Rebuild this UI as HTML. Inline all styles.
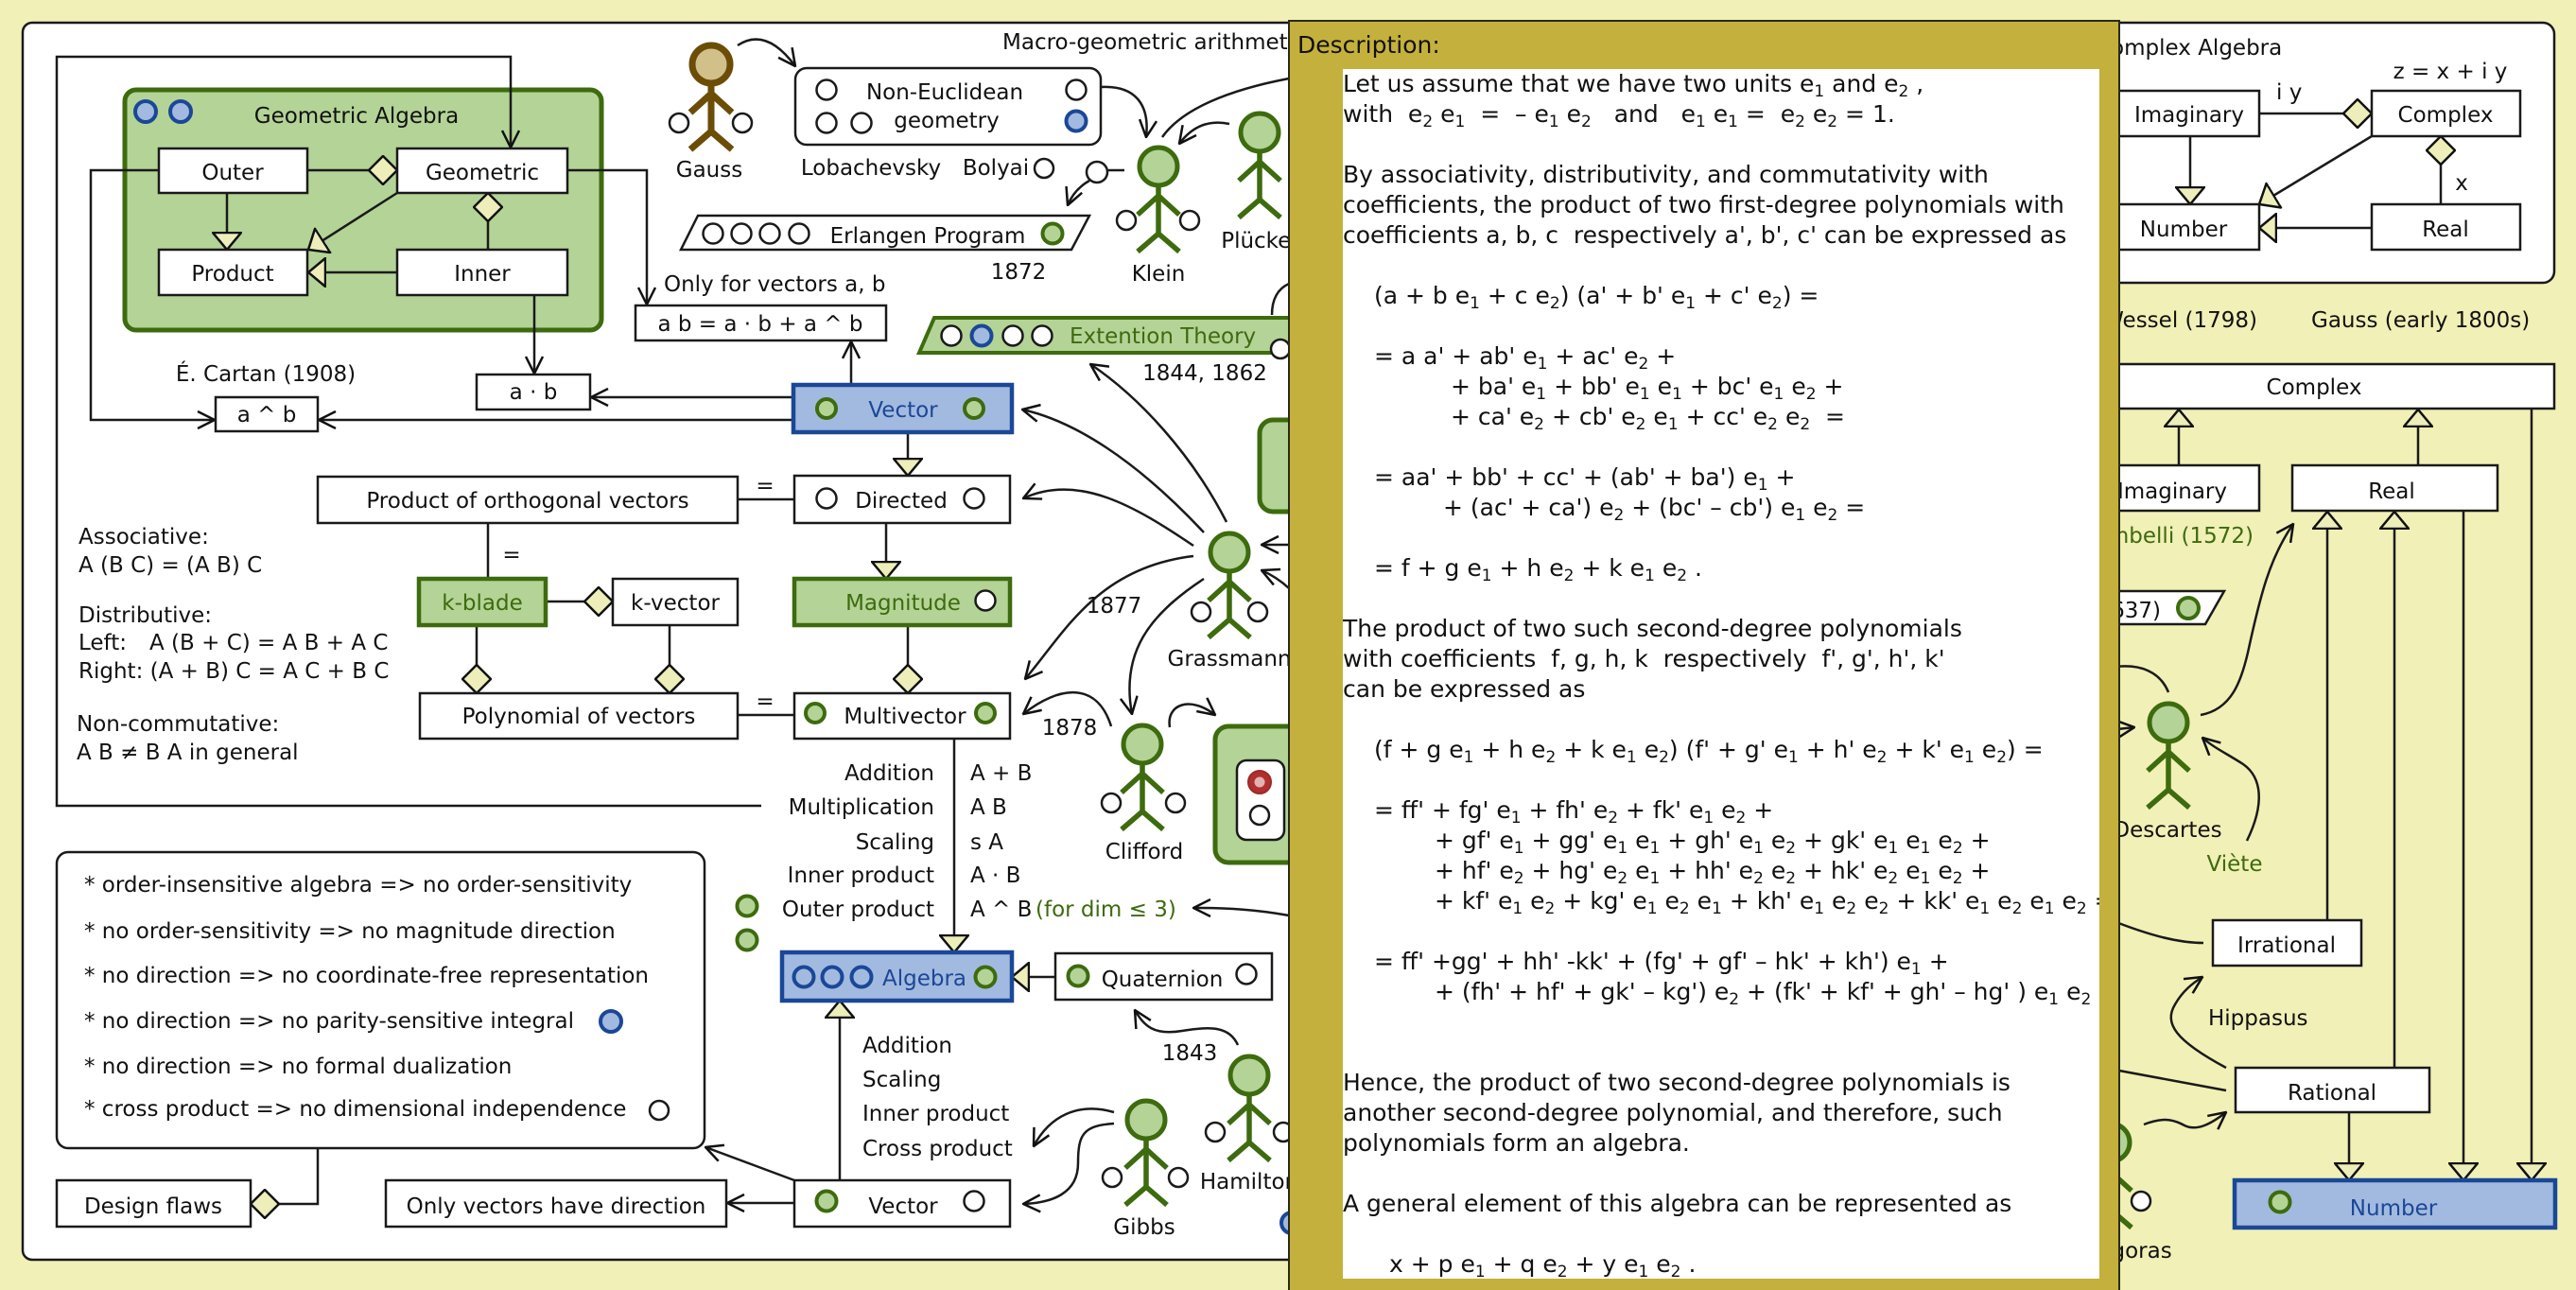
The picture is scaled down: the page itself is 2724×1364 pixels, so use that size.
<!DOCTYPE html>
<html><head><meta charset="utf-8">
<style>
html,body{margin:0;padding:0;background:#f1f0b6;}
body{width:2724px;height:1364px;position:relative;overflow:hidden;}
svg{position:absolute;left:0;top:0;}
text{font-family:"DejaVu Sans","Liberation Sans",sans-serif;font-size:23px;fill:#111;}
.m{text-anchor:middle}
.e{text-anchor:end}
.g{fill:#3d6b0e}
.b{fill:#1b4796}
.ln{fill:none;stroke:#1a1a1a;stroke-width:2.5}
.bx{fill:#fff;stroke:#1a1a1a;stroke-width:2.5}
.gb{fill:#b4d396;stroke:#3d6b0e;stroke-width:4.5}
.bb{fill:#a2bae0;stroke:#1b4796;stroke-width:4.5}
.oc{fill:#fff;stroke:#1a1a1a;stroke-width:2.5}
.gc{fill:#b4d396;stroke:#3d6b0e;stroke-width:4}
.bc{fill:#a2bae0;stroke:#1b4796;stroke-width:4}
.br{fill:none;stroke:#1b4796;stroke-width:4}
#desc{position:absolute;left:1420px;top:73px;width:800px;height:1279px;overflow:hidden;background:#fff;font-family:"DejaVu Sans","Liberation Sans",sans-serif;font-size:25px;color:#111;}
#desc div{height:32px;line-height:32px;white-space:pre;}
#desc sub{font-size:17px;vertical-align:-5px;line-height:0;}
</style></head>
<body>
<svg width="2724" height="1364" viewBox="0 0 2724 1364" xmlns="http://www.w3.org/2000/svg">
<defs>
<marker id="ar" viewBox="0 0 20 20" refX="19" refY="10" markerWidth="20" markerHeight="20" markerUnits="userSpaceOnUse" orient="auto"><path d="M1,1 L19,10 L1,19" fill="none" stroke="#111" stroke-width="2.5"/></marker>
<marker id="tri" viewBox="0 0 20 32" refX="19" refY="16" markerWidth="20" markerHeight="32" markerUnits="userSpaceOnUse" orient="auto"><path d="M1,1 L19,16 L1,31 Z" fill="#eeeeba" stroke="#111" stroke-width="2.5"/></marker>
<marker id="dia" viewBox="0 0 32 32" refX="31" refY="16" markerWidth="32" markerHeight="32" markerUnits="userSpaceOnUse" orient="auto"><path d="M1,16 L16,1 L31,16 L16,31 Z" fill="#eeeeba" stroke="#111" stroke-width="2.5"/></marker>
<g id="aG"><circle r="20" fill="#b4d396" stroke="#3d6b0e" stroke-width="5"/><path d="M0,22 V71 M-22,51 L0,31 L22,51 M-22,90 L0,71 L22,90" fill="none" stroke="#3d6b0e" stroke-width="5.5"/></g>
<g id="aB"><circle r="20" fill="#d2c08a" stroke="#6b4d06" stroke-width="7"/><path d="M0,22 V71 M-22,51 L0,31 L22,51 M-22,90 L0,71 L22,90" fill="none" stroke="#6b4d06" stroke-width="7"/></g>
</defs>

<!-- main left container -->
<rect x="24" y="24" width="2160" height="1308" rx="10" class="bx"/>

<!-- Geometric Algebra package -->
<rect x="132" y="95" width="504" height="254" rx="12" fill="#b4d396" stroke="#3d6b0e" stroke-width="5"/>
<circle cx="154" cy="118" r="11" class="bc"/><circle cx="191" cy="118" r="11" class="bc"/>
<text x="377" y="130" class="m">Geometric Algebra</text>

<!-- connectors left -->
<path d="M805,852 H60 V60 H540 V156" class="ln" marker-end="url(#ar)"/>
<path d="M168,180 H96 V444 H227" class="ln" marker-end="url(#ar)"/>
<path d="M600,180 H684 V322" class="ln" marker-end="url(#ar)"/>
<path d="M565,312 V395" class="ln" marker-end="url(#ar)"/>
<path d="M839,420 H625" class="ln" marker-end="url(#ar)"/>
<path d="M839,444 H337" class="ln" marker-end="url(#ar)"/>
<path d="M900,407 V361" class="ln" marker-end="url(#ar)"/>
<path d="M240,204 V264" class="ln" marker-end="url(#tri)"/>
<path d="M420,204 L326,264" class="ln" marker-end="url(#tri)"/>
<path d="M420,288 H326" class="ln" marker-end="url(#tri)"/>
<path d="M325,180 H420" class="ln" marker-end="url(#dia)"/>
<path d="M516,264 V204" class="ln" marker-end="url(#dia)"/>
<path d="M960,457 V503" class="ln" marker-end="url(#tri)"/>
<path d="M937,553 V612" class="ln" marker-end="url(#tri)"/>
<path d="M960,661 V733" class="ln" marker-end="url(#dia)"/>
<path d="M504,661 V733" class="ln" marker-end="url(#dia)"/>
<path d="M708,661 V733" class="ln" marker-end="url(#dia)"/>
<path d="M577,636 H648" class="ln" marker-end="url(#dia)"/>
<path d="M516,553 V612" class="ln"/>
<path d="M780,528 H840" class="ln"/>
<path d="M780,756 H840" class="ln"/>
<path d="M1009,781 V1007" class="ln" marker-end="url(#tri)"/>
<path d="M1116,1033 H1070" class="ln" marker-end="url(#tri)"/>
<path d="M888,1248 V1058" class="ln" marker-end="url(#tri)"/>
<path d="M840,1272 H769" class="ln" marker-end="url(#ar)"/>
<path d="M840,1248 L746,1213" class="ln" marker-end="url(#ar)"/>
<path d="M336,1214 V1273 H265" class="ln" marker-end="url(#dia)"/>

<!-- curves -->
<path d="M780,48 Q810,28 841,70" class="ln" marker-end="url(#ar)"/>
<path d="M1164,92 C1200,90 1216,110 1212,145" class="ln" marker-end="url(#ar)"/>
<path d="M1189,180 H1172" class="ln"/>
<circle cx="1160" cy="182" r="11" class="oc"/>
<path d="M1152,191 Q1136,200 1129,217" class="ln" marker-end="url(#ar)"/>
<path d="M1300,131 Q1268,124 1247,152" class="ln" marker-end="url(#ar)"/>
<path d="M1363,83 C1300,95 1250,115 1229,145" class="ln"/>
<path d="M1345,333 C1345,315 1352,305 1363,300" class="ln"/>
<path d="M1297,552 C1260,480 1205,420 1153,385" class="ln" marker-end="url(#ar)"/>
<path d="M1273,563 C1200,485 1135,445 1081,433" class="ln" marker-end="url(#ar)"/>
<path d="M1262,577 C1200,535 1140,500 1082,527" class="ln" marker-end="url(#ar)"/>
<path d="M1262,588 C1160,600 1125,670 1084,718" class="ln" marker-end="url(#ar)"/>
<path d="M1273,612 C1215,650 1185,690 1197,755" class="ln" marker-end="url(#ar)"/>
<path d="M1175,768 C1160,720 1120,725 1082,755" class="ln" marker-end="url(#ar)"/>
<path d="M1237,769 C1233,745 1258,735 1285,756" class="ln" marker-end="url(#ar)"/>
<path d="M1363,968 C1330,962 1300,960 1262,960" class="ln" marker-end="url(#ar)"/>
<path d="M1363,576 L1334,576" class="ln" marker-end="url(#ar)"/>
<path d="M1363,622 Q1350,610 1334,603" class="ln" marker-end="url(#ar)"/>
<path d="M1309,1105 C1300,1085 1280,1085 1250,1090 C1220,1095 1210,1085 1200,1068" class="ln" marker-end="url(#ar)"/>
<path d="M1178,1176 C1140,1165 1110,1180 1093,1212" class="ln" marker-end="url(#ar)"/>
<path d="M1178,1188 C1145,1190 1140,1200 1140,1230 C1140,1262 1112,1272 1082,1273" class="ln" marker-end="url(#ar)"/>

<!-- GA inner boxes -->
<rect x="168" y="157" width="157" height="47" class="bx"/><text x="246" y="190" class="m">Outer</text>
<rect x="420" y="157" width="180" height="47" class="bx"/><text x="510" y="190" class="m">Geometric</text>
<rect x="168" y="264" width="157" height="48" class="bx"/><text x="246" y="297" class="m">Product</text>
<rect x="420" y="264" width="180" height="48" class="bx"/><text x="510" y="297" class="m">Inner</text>

<text x="281" y="403" class="m">É. Cartan (1908)</text>
<rect x="228" y="420" width="108" height="36" class="bx"/><text x="282" y="446" class="m">a ^ b</text>
<rect x="504" y="396" width="120" height="37" class="bx"/><text x="564" y="422" class="m">a · b</text>
<text x="702" y="308">Only for vectors a, b</text>
<rect x="672" y="323" width="265" height="37" class="bx"/><text x="804" y="350" class="m">a b = a · b + a ^ b</text>

<rect x="839" y="407" width="231" height="50" class="bb"/>
<circle cx="874" cy="432" r="10" class="gc"/><circle cx="1030" cy="432" r="10" class="gc"/>
<text x="955" y="441" class="m b">Vector</text>

<text x="1060" y="52">Macro-geometric arithmetic</text>

<!-- Gauss -->
<use href="#aB" x="752" y="68"/>
<circle cx="718" cy="130" r="10" class="oc"/><circle cx="785" cy="130" r="10" class="oc"/>
<text x="750" y="187" class="m">Gauss</text>

<rect x="841" y="72" width="323" height="81" rx="12" class="bx"/>
<circle cx="874" cy="95" r="10.5" class="oc"/><circle cx="1138" cy="95" r="10.5" class="oc"/>
<circle cx="874" cy="130" r="10.5" class="oc"/><circle cx="911" cy="130" r="10.5" class="oc"/>
<circle cx="1138" cy="128" r="10.5" class="bc"/>
<text x="999" y="105" class="m">Non-Euclidean</text>
<text x="1001" y="135" class="m">geometry</text>
<text x="921" y="185" class="m">Lobachevsky</text>
<text x="1053" y="185" class="m">Bolyai</text>
<circle cx="1104" cy="178" r="10" class="oc"/>

<polygon points="738,228 1152,228 1133,264 720,264" class="bx"/>
<circle cx="754" cy="247" r="10.5" class="oc"/><circle cx="784" cy="247" r="10.5" class="oc"/><circle cx="814" cy="247" r="10.5" class="oc"/><circle cx="845" cy="247" r="10.5" class="oc"/>
<text x="981" y="257" class="m">Erlangen Program</text>
<circle cx="1113" cy="247" r="10.5" class="gc"/>
<text x="1077" y="295" class="m">1872</text>

<use href="#aG" x="1225" y="176"/>
<circle cx="1191" cy="233" r="10" class="oc"/><circle cx="1258" cy="233" r="10" class="oc"/>
<text x="1225" y="297" class="m">Klein</text>
<use href="#aG" x="1332" y="140"/>
<text x="1333" y="262" class="m">Plücker</text>

<polygon points="988,336 1385,336 1370,373 972,373" fill="#b4d396" stroke="#3d6b0e" stroke-width="4"/>
<circle cx="1006" cy="355" r="10.5" class="oc"/><circle cx="1038" cy="355" r="10.5" class="bc"/><circle cx="1071" cy="355" r="10.5" class="oc"/><circle cx="1102" cy="355" r="10.5" class="oc"/>
<text x="1131" y="363" class="g">Extention Theory</text>
<circle cx="1354" cy="369" r="10" class="oc"/>
<text x="1274" y="402" class="m">1844, 1862</text>

<!-- middle boxes -->
<rect x="336" y="504" width="444" height="49" class="bx"/><text x="558" y="537" class="m">Product of orthogonal  vectors</text>
<text x="541" y="594" class="m">=</text>
<text x="809" y="521" class="m">=</text>
<text x="809" y="749" class="m">=</text>
<rect x="840" y="503" width="228" height="50" class="bx"/>
<circle cx="874" cy="527" r="10.5" class="oc"/><circle cx="1030" cy="527" r="10.5" class="oc"/>
<text x="953" y="537" class="m">Directed</text>
<rect x="443" y="612" width="134" height="49" class="gb"/><text x="510" y="645" class="m g">k-blade</text>
<rect x="648" y="612" width="132" height="49" class="bx"/><text x="714" y="645" class="m">k-vector</text>
<rect x="840" y="612" width="228" height="49" class="gb"/><text x="955" y="645" class="m g">Magnitude</text>
<circle cx="1042" cy="635" r="10.5" class="oc"/>
<rect x="444" y="733" width="336" height="48" class="bx"/><text x="612" y="765" class="m">Polynomial of vectors</text>
<rect x="840" y="733" width="228" height="48" class="bx"/>
<circle cx="862" cy="754" r="10" class="gc"/><circle cx="1042" cy="754" r="10" class="gc"/>
<text x="957" y="765" class="m">Multivector</text>

<text x="83" y="575">Associative:</text>
<text x="83" y="605">A (B C) = (A B) C</text>
<text x="83" y="658">Distributive:</text>
<text x="83" y="687">Left:<tspan x="158">A (B + C) = A B + A C</tspan></text>
<text x="83" y="717">Right: (A + B) C = A C + B C</text>
<text x="81" y="773">Non-commutative:</text>
<text x="81" y="803">A B ≠ B A in general</text>

<!-- Grassmann etc -->
<use href="#aG" x="1300" y="584"/>
<circle cx="1270" cy="647" r="10" class="oc"/><circle cx="1330" cy="647" r="10" class="oc"/>
<text x="1300" y="704" class="m">Grassmann</text>
<text x="1178" y="648" class="m">1877</text>
<use href="#aG" x="1208" y="787"/>
<circle cx="1175" cy="849" r="10" class="oc"/><circle cx="1243" cy="849" r="10" class="oc"/>
<text x="1210" y="908" class="m">Clifford</text>
<text x="1131" y="777" class="m">1878</text>

<rect x="1332" y="444" width="100" height="97" rx="14" fill="#b4d396" stroke="#3d6b0e" stroke-width="5"/>
<rect x="1285" y="768" width="120" height="144" rx="14" fill="#b4d396" stroke="#3d6b0e" stroke-width="5"/>
<rect x="1308" y="804" width="50" height="84" rx="10" class="bx"/>
<circle cx="1332" cy="827" r="12" fill="#b03030" stroke="#a02828" stroke-width="2"/><circle cx="1332" cy="827" r="5.5" fill="#e2b2b2"/>
<circle cx="1332" cy="862" r="10" class="oc"/>

<!-- operations -->
<text x="988" y="825" class="e">Addition</text>
<text x="988" y="861" class="e">Multiplication</text>
<text x="988" y="898" class="e">Scaling</text>
<text x="988" y="933" class="e">Inner product</text>
<text x="988" y="969" class="e">Outer product</text>
<text x="1026" y="825">A + B</text>
<text x="1026" y="861">A B</text>
<text x="1026" y="898">s A</text>
<text x="1026" y="933">A · B</text>
<text x="1026" y="969">A ^ B<tspan class="g" x="1095">(for dim ≤ 3)</tspan></text>
<circle cx="790" cy="958" r="10.5" class="gc"/><circle cx="790" cy="994" r="10.5" class="gc"/>

<rect x="827" y="1007" width="243" height="51" class="bb"/>
<circle cx="850" cy="1033" r="10.5" class="br"/><circle cx="880" cy="1033" r="10.5" class="br"/><circle cx="911" cy="1033" r="10.5" class="br"/>
<text x="933" y="1042" class="b">Algebra</text>
<circle cx="1042" cy="1033" r="10.5" class="gc"/>
<rect x="1116" y="1008" width="229" height="49" class="bx"/>
<circle cx="1140" cy="1032" r="10.5" class="gc"/><circle cx="1318" cy="1030" r="10.5" class="oc"/>
<text x="1229" y="1043" class="m">Quaternion</text>

<text x="912" y="1113">Addition</text>
<text x="912" y="1149">Scaling</text>
<text x="912" y="1185">Inner product</text>
<text x="912" y="1222">Cross product</text>
<rect x="840" y="1248" width="228" height="49" class="bx"/>
<circle cx="874" cy="1270" r="10.5" class="gc"/><circle cx="1030" cy="1270" r="10.5" class="oc"/>
<text x="955" y="1283" class="m">Vector</text>
<rect x="408" y="1248" width="360" height="49" class="bx"/><text x="588" y="1283" class="m">Only vectors have direction</text>
<rect x="60" y="1248" width="205" height="49" class="bx"/><text x="162" y="1283" class="m">Design flaws</text>

<rect x="60" y="901" width="685" height="313" rx="12" class="bx"/>
<text x="89" y="943">* order-insensitive algebra =&gt; no order-sensitivity</text>
<text x="89" y="992">* no order-sensitivity =&gt; no magnitude direction</text>
<text x="89" y="1039">* no direction =&gt; no coordinate-free representation</text>
<text x="89" y="1087">* no direction =&gt; no parity-sensitive integral</text>
<text x="89" y="1135">* no direction =&gt; no formal dualization</text>
<text x="89" y="1180">* cross product =&gt; no dimensional independence</text>
<circle cx="646" cy="1080" r="11" class="bc"/>
<circle cx="697" cy="1174" r="10" class="oc"/>

<use href="#aG" x="1212" y="1184"/>
<circle cx="1176" cy="1245" r="10" class="oc"/><circle cx="1246" cy="1245" r="10" class="oc"/>
<text x="1210" y="1305" class="m">Gibbs</text>
<use href="#aG" x="1321" y="1137"/>
<circle cx="1285" cy="1197" r="10" class="oc"/><circle cx="1357" cy="1197" r="10" class="oc"/>
<text x="1321" y="1257" class="m">Hamilton</text>
<text x="1258" y="1121" class="m">1843</text>
<circle cx="1366" cy="1293" r="11" class="bc"/>

<!-- right side -->
<rect x="2197" y="24" width="504" height="275" rx="12" class="bx"/>
<text x="2216" y="58">Complex Algebra</text>
<path d="M2316,144 V216" class="ln" marker-end="url(#tri)"/>
<path d="M2508,144 L2389,216" class="ln" marker-end="url(#tri)"/>
<path d="M2508,241 H2389" class="ln" marker-end="url(#tri)"/>
<path d="M2389,120 H2508" class="ln" marker-end="url(#dia)"/>
<path d="M2581,216 V144" class="ln" marker-end="url(#dia)"/>
<rect x="2232" y="96" width="157" height="48" class="bx"/><text x="2315" y="129" class="m">Imaginary</text>
<rect x="2508" y="96" width="157" height="48" class="bx"/><text x="2586" y="129" class="m">Complex</text>
<rect x="2232" y="216" width="157" height="48" class="bx"/><text x="2309" y="250" class="m">Number</text>
<rect x="2508" y="216" width="157" height="48" class="bx"/><text x="2586" y="250" class="m">Real</text>
<text x="2407" y="105">i y</text>
<text x="2591" y="83" class="m">z = x + i y</text>
<text x="2603" y="201" class="m">x</text>

<text x="2387" y="346" class="e">Wessel (1798)</text>
<text x="2444" y="346">Gauss (early 1800s)</text>

<path d="M2304,492 V433" class="ln" marker-end="url(#tri)"/>
<path d="M2557,492 V433" class="ln" marker-end="url(#tri)"/>
<path d="M2677,432 V1248" class="ln" marker-end="url(#tri)"/>
<path d="M2605,540 V1248" class="ln" marker-end="url(#tri)"/>
<path d="M2461,973 V541" class="ln" marker-end="url(#tri)"/>
<path d="M2532,1129 V541" class="ln" marker-end="url(#tri)"/>
<path d="M2484,1176 V1248" class="ln" marker-end="url(#tri)"/>
<rect x="2230" y="385" width="471" height="47" class="bx"/><text x="2447" y="417" class="m">Complex</text>
<rect x="2230" y="492" width="159" height="48" class="bx"/><text x="2297" y="527" class="m">Imaginary</text>
<rect x="2424" y="492" width="217" height="48" class="bx"/><text x="2529" y="527" class="m">Real</text>
<text x="2383" y="574" class="e g">Bombelli (1572)</text>
<polygon points="2180,625 2352,625 2332,660 2180,660" class="bx"/>
<text x="2285" y="653" class="e">(1637)</text>
<circle cx="2314" cy="643" r="11" class="gc"/>

<path d="M2327,756 C2360,750 2370,720 2377,690 C2390,630 2400,590 2425,554" class="ln" marker-end="url(#ar)"/>
<path d="M2230,706 C2265,700 2285,712 2293,732" class="ln"/>
<path d="M2230,772 L2257,769" class="ln" marker-end="url(#ar)"/>
<path d="M2376,889 C2395,850 2392,822 2372,808 C2355,797 2340,790 2329,780" class="ln" marker-end="url(#ar)"/>
<path d="M2230,972 C2275,990 2305,997 2330,997" class="ln"/>
<path d="M2354,1129 C2300,1100 2288,1082 2300,1062 C2308,1048 2318,1040 2329,1033" class="ln" marker-end="url(#ar)"/>
<path d="M2230,1130 L2354,1153" class="ln"/>
<path d="M2267,1189 C2290,1180 2300,1185 2310,1190 C2322,1196 2336,1190 2354,1176" class="ln" marker-end="url(#ar)"/>

<use href="#aG" x="2293" y="764"/>
<text x="2292" y="885" class="m">Descartes</text>
<text x="2363" y="921" class="m g">Viète</text>
<rect x="2340" y="973" width="157" height="48" class="bx"/><text x="2418" y="1007" class="m">Irrational</text>
<text x="2335" y="1084">Hippasus</text>
<rect x="2364" y="1129" width="205" height="47" class="bx"/><text x="2466" y="1163" class="m">Rational</text>
<use href="#aG" x="2232" y="1208"/>
<circle cx="2264" cy="1270" r="10" class="oc"/>
<text x="2232" y="1330" class="m">Pythagoras</text>
<rect x="2363" y="1248" width="339" height="50" class="bb"/>
<circle cx="2411" cy="1271" r="10.5" class="gc"/>
<text x="2531" y="1285" class="m b">Number</text>

<!-- description panel -->
<rect x="1363" y="22" width="878" height="1350" fill="#c4b03c" stroke="#2a2a1a" stroke-width="2"/>
<text x="1372" y="56" style="font-size:25px">Description:</text>
</svg>

<div id="desc">
<div>Let us assume that we have two units e<sub>1</sub> and e<sub>2</sub> ,</div>
<div>with  e<sub>2</sub> e<sub>1</sub>  =  – e<sub>1</sub> e<sub>2</sub>   and   e<sub>1</sub> e<sub>1</sub> =  e<sub>2</sub> e<sub>2</sub> = 1.</div>
<div></div>
<div>By associativity, distributivity, and commutativity with</div>
<div>coefficients, the product of two first-degree polynomials with</div>
<div>coefficients a, b, c  respectively a', b', c' can be expressed as</div>
<div></div>
<div style="padding-left:33px">(a + b e<sub>1</sub> + c e<sub>2</sub>) (a' + b' e<sub>1</sub> + c' e<sub>2</sub>) =</div>
<div></div>
<div style="padding-left:33px">= a a' + ab' e<sub>1</sub> + ac' e<sub>2</sub> +</div>
<div style="padding-left:114px">+ ba' e<sub>1</sub> + bb' e<sub>1</sub> e<sub>1</sub> + bc' e<sub>1</sub> e<sub>2</sub> +</div>
<div style="padding-left:114px">+ ca' e<sub>2</sub> + cb' e<sub>2</sub> e<sub>1</sub> + cc' e<sub>2</sub> e<sub>2</sub>  =</div>
<div></div>
<div style="padding-left:33px">= aa' + bb' + cc' + (ab' + ba') e<sub>1</sub> +</div>
<div style="padding-left:106px">+ (ac' + ca') e<sub>2</sub> + (bc' – cb') e<sub>1</sub> e<sub>2</sub> =</div>
<div></div>
<div style="padding-left:33px">= f + g e<sub>1</sub> + h e<sub>2</sub> + k e<sub>1</sub> e<sub>2</sub> .</div>
<div></div>
<div>The product of two such second-degree polynomials</div>
<div>with coefficients  f, g, h, k  respectively  f', g', h', k'</div>
<div>can be expressed as</div>
<div></div>
<div style="padding-left:33px">(f + g e<sub>1</sub> + h e<sub>2</sub> + k e<sub>1</sub> e<sub>2</sub>) (f' + g' e<sub>1</sub> + h' e<sub>2</sub> + k' e<sub>1</sub> e<sub>2</sub>) =</div>
<div></div>
<div style="padding-left:33px">= ff' + fg' e<sub>1</sub> + fh' e<sub>2</sub> + fk' e<sub>1</sub> e<sub>2</sub> +</div>
<div style="padding-left:97px">+ gf' e<sub>1</sub> + gg' e<sub>1</sub> e<sub>1</sub> + gh' e<sub>1</sub> e<sub>2</sub> + gk' e<sub>1</sub> e<sub>1</sub> e<sub>2</sub> +</div>
<div style="padding-left:97px">+ hf' e<sub>2</sub> + hg' e<sub>2</sub> e<sub>1</sub> + hh' e<sub>2</sub> e<sub>2</sub> + hk' e<sub>2</sub> e<sub>1</sub> e<sub>2</sub> +</div>
<div style="padding-left:97px">+ kf' e<sub>1</sub> e<sub>2</sub> + kg' e<sub>1</sub> e<sub>2</sub> e<sub>1</sub> + kh' e<sub>1</sub> e<sub>2</sub> e<sub>2</sub> + kk' e<sub>1</sub> e<sub>2</sub> e<sub>1</sub> e<sub>2</sub> =</div>
<div></div>
<div style="padding-left:33px">= ff' +gg' + hh' -kk' + (fg' + gf' – hk' + kh') e<sub>1</sub> +</div>
<div style="padding-left:97px">+ (fh' + hf' + gk' – kg') e<sub>2</sub> + (fk' + kf' + gh' – hg' ) e<sub>1</sub> e<sub>2</sub> .</div>
<div></div>
<div></div>
<div>Hence, the product of two second-degree polynomials is</div>
<div>another second-degree polynomial, and therefore, such</div>
<div>polynomials form an algebra.</div>
<div></div>
<div>A general element of this algebra can be represented as</div>
<div></div>
<div style="padding-left:49px">x + p e<sub>1</sub> + q e<sub>2</sub> + y e<sub>1</sub> e<sub>2</sub> .</div>
</div>
</body></html>
